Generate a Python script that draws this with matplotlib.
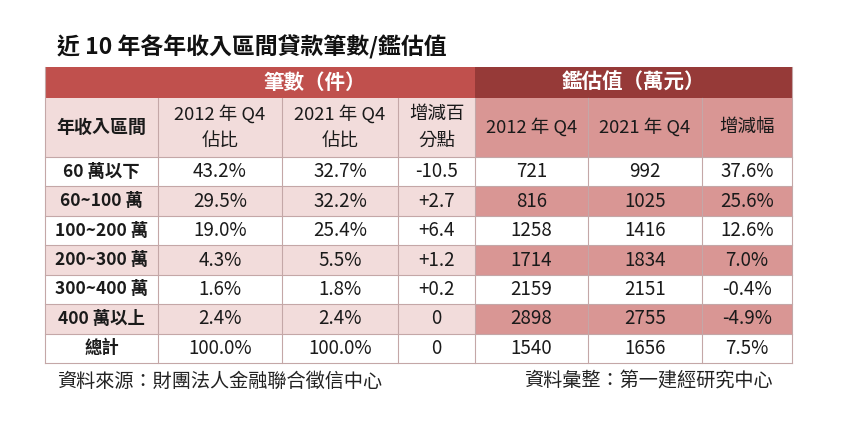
import matplotlib.pyplot as plt
from matplotlib.patches import Rectangle

plt.rcParams['font.family'] = ['Noto Sans CJK TC', 'DejaVu Sans']

# data
title = "近 10 年各年收入區間貸款筆數/鑑估值"
groups = ["筆數（件）", "鑑估值（萬元）"]
sub_headers = ["年收入區間", "2012 年 Q4\n佔比", "2021 年 Q4\n佔比", "增減百\n分點",
               "2012 年 Q4", "2021 年 Q4", "增減幅"]
income = ["60 萬以下", "60~100 萬", "100~200 萬", "200~300 萬", "300~400 萬", "400 萬以上", "總計"]
share_2012 = ["43.2%", "29.5%", "19.0%", "4.3%", "1.6%", "2.4%", "100.0%"]
share_2021 = ["32.7%", "32.2%", "25.4%", "5.5%", "1.8%", "2.4%", "100.0%"]
share_diff = ["-10.5", "+2.7", "+6.4", "+1.2", "+0.2", "0", "0"]
value_2012 = [721, 816, 1258, 1714, 2159, 2898, 1540]
value_2021 = [992, 1025, 1416, 1834, 2151, 2755, 1656]
value_chg = ["37.6%", "25.6%", "12.6%", "7.0%", "-0.4%", "-4.9%", "7.5%"]
source_left = "資料來源：財團法人金融聯合徵信中心"
source_right = "資料彙整：第一建經研究中心"

# layout (pixels)
W, H = 852, 422
col_edges = [45, 158, 282, 398, 475, 588, 702, 792]
h1_top, h1_bot, h2_bot = 67, 98, 157
row_h = (363 - h2_bot) / len(income)

red = '#C0504D'
dark_red = '#963A38'
light_pink = '#F2DCDB'
mid_pink = '#D99694'
line_c = '#C4A7A7'

fig = plt.figure(figsize=(W / 100, H / 100), dpi=100)
ax = fig.add_axes([0, 0, 1, 1])
ax.set_xlim(0, W)
ax.set_ylim(H, 0)
ax.axis('off')

def cell(x0, x1, y0, y1, color):
    ax.add_patch(Rectangle((x0, y0), x1 - x0, y1 - y0, facecolor=color, edgecolor='none'))

# group headers
cell(col_edges[0], col_edges[4], h1_top, h1_bot, red)
cell(col_edges[4], col_edges[7], h1_top, h1_bot, dark_red)
ax.text(315, (h1_top + h1_bot) / 2, groups[0],
        color='white', fontsize=14.8, fontweight='bold', ha='center', va='center')
ax.text((col_edges[4] + col_edges[7]) / 2, (h1_top + h1_bot) / 2, groups[1],
        color='white', fontsize=14.8, fontweight='bold', ha='center', va='center')

# sub headers
cell(col_edges[0], col_edges[4], h1_bot, h2_bot, light_pink)
cell(col_edges[4], col_edges[7], h1_bot, h2_bot, mid_pink)
for j, lab in enumerate(sub_headers):
    cx = (col_edges[j] + col_edges[j + 1]) / 2
    ax.text(cx, (h1_bot + h2_bot) / 2, lab, fontsize=13.3 if j else 13, ha='center', va='center',
            linespacing=1.6, color='#1a1a1a', fontweight='bold' if j == 0 else 'normal')

# body
columns = [income, share_2012, share_2021, share_diff,
           [str(v) for v in value_2012], [str(v) for v in value_2021], value_chg]
for i in range(len(income)):
    y0 = h2_bot + i * row_h
    y1 = y0 + row_h
    if i % 2 == 1:
        cell(col_edges[0], col_edges[4], y0, y1, light_pink)
        cell(col_edges[4], col_edges[7], y0, y1, mid_pink)
    for j, col in enumerate(columns):
        cx = (col_edges[j] + col_edges[j + 1]) / 2
        ax.text(cx, (y0 + y1) / 2, col[i], fontsize=12.5 if j == 0 else 13.5, ha='center', va='center',
                color='#1a1a1a', fontweight='bold' if j == 0 else 'normal')

# grid lines
bottom = h2_bot + len(income) * row_h
for k in range(len(income) + 1):
    y = h2_bot + k * row_h
    ax.plot([col_edges[0], col_edges[7]], [y, y], color=line_c, lw=0.8)
for j, x in enumerate(col_edges):
    top = h1_top if j in (0, 7) else h1_bot
    ax.plot([x, x], [top, bottom], color=line_c, lw=0.8)

ax.text(57, 47, title, fontsize=16.5, fontweight='bold', ha='left', va='center', color='#111111')
ax.text(57, 381, source_left, fontsize=13.8, ha='left', va='center', color='#222222')
ax.text(773, 381, source_right, fontsize=13.8, ha='right', va='center', color='#222222')

fig.savefig('out.png', dpi=100, facecolor='white')
